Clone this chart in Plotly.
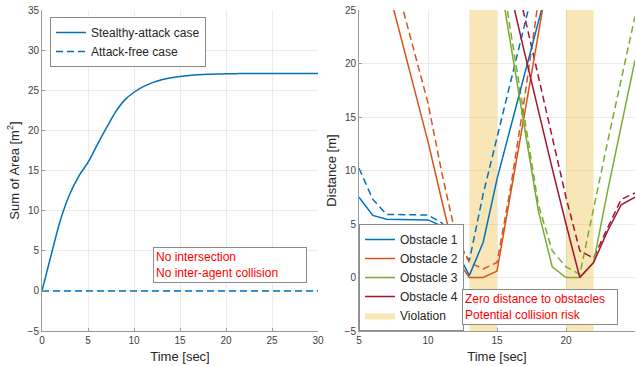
import plotly.graph_objects as go

# ---------------- data: left panel ----------------
area_time = list(range(0, 31))
area_stealthy = [0, 4.5, 8.8, 12.0, 14.3, 16.0, 18.2, 20.3, 22.3, 23.8, 24.75, 25.45, 25.95,
                 26.3, 26.55, 26.72, 26.84, 26.92, 26.98, 27.02, 27.05, 27.07, 27.08, 27.09,
                 27.1, 27.1, 27.1, 27.1, 27.1, 27.1, 27.1]
area_free = [0] * 31

# ---------------- data: right panel ----------------
obs1_t = [5, 6, 7, 8, 9, 10, 11, 12, 13, 14, 15, 16, 17, 18, 19]
obs1_attack = [7.5, 5.8, 5.45, 5.42, 5.4, 5.38, 4.8, 2.6, 0.2, 3.3, 9.2, 14.1, 19.0, 23.9, 28.8]
obs1_free = [10.2, 7.3, 5.9, 5.86, 5.85, 5.84, 5.1, 3.4, 1.6, 7.8, 13.1, 18.4, 23.6, 28.9, 34.0]

obs2_t = [7, 8, 9, 10, 11, 12, 13, 14, 15, 16, 17, 18, 19]
obs2_attack = [27.6, 22.6, 17.6, 12.7, 7.2, 1.8, 0.0, 0.0, 0.6, 7.8, 15.3, 22.8, 30.3]
obs2_free = [30.8, 25.9, 21.0, 16.3, 9.8, 4.0, 1.4, 0.8, 1.4, 8.5, 16.8, 26.0, 35.0]

obs3_t = [15, 16, 17, 18, 19, 20, 21, 22, 23, 24, 25]
obs3_attack = [29.5, 21.7, 13.9, 6.2, 1.0, 0.0, 0.0, 1.4, 8.0, 14.3, 20.3]
obs3_free = [31.0, 23.0, 15.0, 6.8, 2.5, 1.0, 0.3, 6.6, 12.6, 18.5, 24.4]

obs4_t = [15, 16, 17, 18, 19, 20, 21, 22, 23, 24, 25]
obs4_attack = [31.5, 26.5, 21.0, 15.5, 10.2, 5.0, 0.0, 1.4, 4.3, 6.8, 7.5]
obs4_free = [35.0, 29.5, 24.4, 18.7, 13.0, 7.5, 2.5, 1.8, 4.6, 7.3, 7.9]

violation_intervals = [(13, 15), (20, 22)]

obstacle_names = ["Obstacle 1", "Obstacle 2", "Obstacle 3", "Obstacle 4"]
colors = ["#0072BD", "#D95319", "#77AC30", "#A2142F"]

FONT = "Liberation Sans, Arial, Helvetica, sans-serif"
DASH = "7px,4px"
LW = 1.5

fig = go.Figure()

# violation shading (right panel)
vx, vy = [], []
y_lo, y_hi = -5, 25
for a, b in violation_intervals:
    vx += [a, b, b, a, a, None]
    vy += [y_lo, y_lo, y_hi, y_hi, y_lo, None]
fig.add_trace(go.Scatter(x=vx, y=vy, mode="lines", fill="toself",
                         fillcolor="rgba(237,177,32,0.32)", line=dict(width=0),
                         name="Violation", xaxis="x2", yaxis="y2",
                         legend="legend2", legendrank=1000, hoverinfo="skip"))

# left panel lines
fig.add_trace(go.Scatter(x=area_time, y=area_stealthy, mode="lines",
                         line=dict(color="#0072BD", width=LW, shape="spline", smoothing=0.8),
                         name="Stealthy-attack case", xaxis="x", yaxis="y", legend="legend"))
fig.add_trace(go.Scatter(x=area_time, y=area_free, mode="lines",
                         line=dict(color="#0072BD", width=LW, dash=DASH),
                         name="Attack-free case", xaxis="x", yaxis="y", legend="legend"))

# right panel lines
series = [(obs1_t, obs1_attack, obs1_free), (obs2_t, obs2_attack, obs2_free),
          (obs3_t, obs3_attack, obs3_free), (obs4_t, obs4_attack, obs4_free)]
for i, (t, att, fr) in enumerate(series):
    fig.add_trace(go.Scatter(x=t, y=fr, mode="lines",
                             line=dict(color=colors[i], width=LW, dash=DASH),
                             showlegend=False, xaxis="x2", yaxis="y2"))
for i, (t, att, fr) in enumerate(series):
    fig.add_trace(go.Scatter(x=t, y=att, mode="lines",
                             line=dict(color=colors[i], width=LW),
                             name=obstacle_names[i], xaxis="x2", yaxis="y2",
                             legend="legend2", legendrank=i + 1))

axis_common = dict(showline=True, linecolor="#9a9a9a", linewidth=1, ticks="inside",
                   ticklen=3, tickcolor="#9a9a9a", showgrid=True, gridcolor="#ebebeb",
                   zeroline=False, tickfont=dict(size=10, color="#404040", family=FONT),
                   mirror=False, automargin=False)

L_END = 276 / 593
R_START = 317 / 593
TITLE_FONT = dict(size=13, color="#262626", family=FONT)

fig.update_layout(
    width=636, height=366,
    margin=dict(l=42, r=1, t=10, b=35, autoexpand=False),
    paper_bgcolor="white", plot_bgcolor="white",
    font=dict(family=FONT, color="#262626"),
    showlegend=True,
    xaxis=dict(domain=[0, L_END], range=[0, 30], dtick=5, anchor="y",
               title=dict(text="Time [sec]", font=TITLE_FONT, standoff=6),
               **axis_common),
    yaxis=dict(domain=[0, 1], range=[-5, 35], dtick=5, anchor="x",
               title=dict(text="Sum of Area [m<sup>2</sup>]", font=TITLE_FONT, standoff=5),
               **axis_common),
    xaxis2=dict(domain=[R_START, 1], range=[5, 25], dtick=5, anchor="y2",
                title=dict(text="Time [sec]", font=TITLE_FONT, standoff=6),
                **axis_common),
    yaxis2=dict(domain=[0, 1], range=[-5, 25], dtick=5, anchor="x2",
                title=dict(text="Distance [m]", font=TITLE_FONT, standoff=5),
                **axis_common),
    legend=dict(x=(50 - 42) / 593, y=(331 - 17) / 321, xanchor="left", yanchor="top",
                bgcolor="white", bordercolor="#8c8c8c", borderwidth=1,
                font=dict(size=12, color="#262626", family=FONT), tracegroupgap=0),
    legend2=dict(x=R_START, y=0, xanchor="left", yanchor="bottom",
                 bgcolor="white", bordercolor="#8c8c8c", borderwidth=1,
                 font=dict(size=12, color="#262626", family=FONT), tracegroupgap=0),
    annotations=[
        dict(x=12.07, y=5.47, xref="x", yref="y", xanchor="left", yanchor="top",
             text="No intersection<br>No inter-agent collision", showarrow=False,
             align="left", width=148, font=dict(size=12, color="#ff0000", family=FONT),
             bgcolor="white", bordercolor="#8c8c8c", borderwidth=1, borderpad=2),
        dict(x=12.45, y=-1.07, xref="x2", yref="y2", xanchor="left", yanchor="top",
             text="Zero distance to obstacles<br>Potential collision risk", showarrow=False,
             align="left", width=150, font=dict(size=12, color="#ff0000", family=FONT),
             bgcolor="white", bordercolor="#8c8c8c", borderwidth=1, borderpad=2),
    ],
)

fig.write_html("out.html", config={"displayModeBar": False},
               post_script="document.body.style.margin='0';document.body.style.overflow='hidden';")
